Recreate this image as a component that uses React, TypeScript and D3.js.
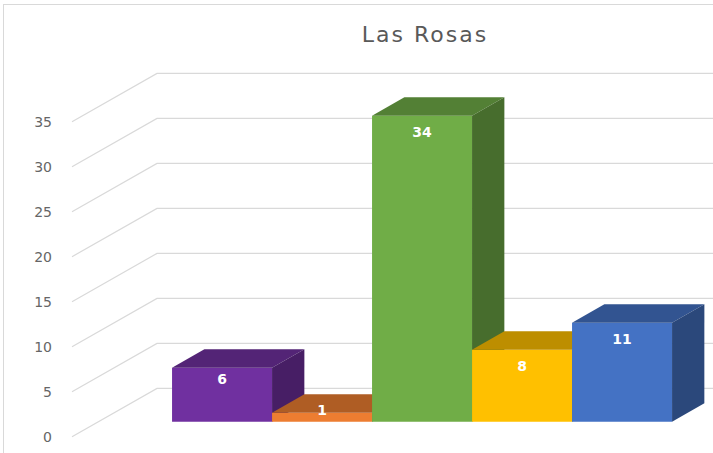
import React, { useRef, useEffect } from "react";
import * as d3 from "d3";

const title = "Las Rosas";
const categories = ["Cat 1", "Cat 2", "Cat 3", "Cat 4", "Cat 5"];
const values = [6, 1, 34, 8, 11];
const colors = ["#7030A0", "#ED7D31", "#70AD47", "#FFC000", "#4472C4"];
const yTicks = [0, 5, 10, 15, 20, 25, 30, 35];

// darken a colour by multiplying its channels
const shade = (c: string, k: number) => {
  const r = d3.rgb(c);
  return d3.rgb(r.r * k, r.g * k, r.b * k).formatHex();
};

const App = () => {
  const ref = useRef<SVGSVGElement>(null);

  useEffect(() => {
    document.body.style.margin = "0";
    const svg = d3.select(ref.current);
    svg.selectAll("*").remove();

    const width = 713;
    const height = 453;
    const depthX = 85;
    const depthY = -48.3;
    const z0 = 0.31; // bar front depth
    const z1 = 0.69; // bar back depth

    const y = d3.scaleLinear().domain([0, 35]).range([436.7, 121.7]);
    const x = d3.scaleBand().domain(categories).range([145.7, 645.7]).padding(0);
    const proj = (px: number, v: number, z: number): [number, number] => [
      px + z * depthX,
      y(v) + z * depthY,
    ];
    const pts = (arr: [number, number][]) => arr.map((p) => p.join(",")).join(" ");

    svg.attr("width", width).attr("height", height);

    // chart frame
    svg
      .append("rect")
      .attr("x", 3.5)
      .attr("y", 4.5)
      .attr("width", width + 20)
      .attr("height", height + 20)
      .attr("fill", "#fff")
      .attr("stroke", "#d9d9d9");

    // title
    svg
      .append("text")
      .text(title)
      .attr("x", 425)
      .attr("y", 42)
      .attr("text-anchor", "middle")
      .style("font-family", "DejaVu Sans, sans-serif")
      .style("font-size", "22px")
      .style("letter-spacing", "2px")
      .style("fill", "#595959");

    // gridlines: diagonal on the side wall, then along the back wall
    svg
      .selectAll("polyline.grid")
      .data(yTicks)
      .enter()
      .append("polyline")
      .attr("class", "grid")
      .attr("fill", "none")
      .attr("stroke", "#d9d9d9")
      .attr("stroke-width", 1.2)
      .attr("points", (t) =>
        pts([
          [72, y(t)],
          [72 + depthX, y(t) + depthY],
          [width + 10, y(t) + depthY],
        ])
      );

    // tick labels
    svg
      .selectAll("text.tick")
      .data(yTicks)
      .enter()
      .append("text")
      .attr("class", "tick")
      .text((t) => t)
      .attr("x", 52)
      .attr("y", (t) => y(t))
      .attr("dominant-baseline", "central")
      .attr("text-anchor", "end")
      .style("font-family", "DejaVu Sans, sans-serif")
      .style("font-size", "14px")
      .style("fill", "#666");

    // bars, left to right so later bars hide earlier side faces
    const bars = svg
      .selectAll("g.bar")
      .data(values)
      .enter()
      .append("g")
      .attr("class", "bar");

    bars.each(function (v, i) {
      const g = d3.select(this);
      const xl = x(categories[i]) as number;
      const xr = xl + x.bandwidth();
      const c = colors[i];
      g.append("polygon")
        .attr("fill", c)
        .attr("points", pts([proj(xl, 0, z0), proj(xr, 0, z0), proj(xr, v, z0), proj(xl, v, z0)]));
      g.append("polygon")
        .attr("fill", shade(c, 0.74))
        .attr("points", pts([proj(xl, v, z0), proj(xr, v, z0), proj(xr, v, z1), proj(xl, v, z1)]));
      g.append("polygon")
        .attr("fill", shade(c, 0.63))
        .attr("points", pts([proj(xr, 0, z0), proj(xr, v, z0), proj(xr, v, z1), proj(xr, 0, z1)]));
    });

    // data labels
    svg
      .selectAll("text.label")
      .data(values)
      .enter()
      .append("text")
      .attr("class", "label")
      .text((v) => v)
      .attr("x", (v, i) => (x(categories[i]) as number) + x.bandwidth() / 2 + z0 * depthX)
      .attr("y", (v) => {
        const top = proj(0, v, z0)[1];
        const h = y(0) - y(v);
        return top + Math.min(16, h * 0.3 - 5);
      })
      .attr("text-anchor", "middle")
      .attr("dominant-baseline", "central")
      .style("font-family", "DejaVu Sans, sans-serif")
      .style("font-size", "14px")
      .style("font-weight", "bold")
      .style("fill", "#fff");
  }, []);

  return <svg ref={ref} style={{ display: "block" }}></svg>;
};

export default App;
